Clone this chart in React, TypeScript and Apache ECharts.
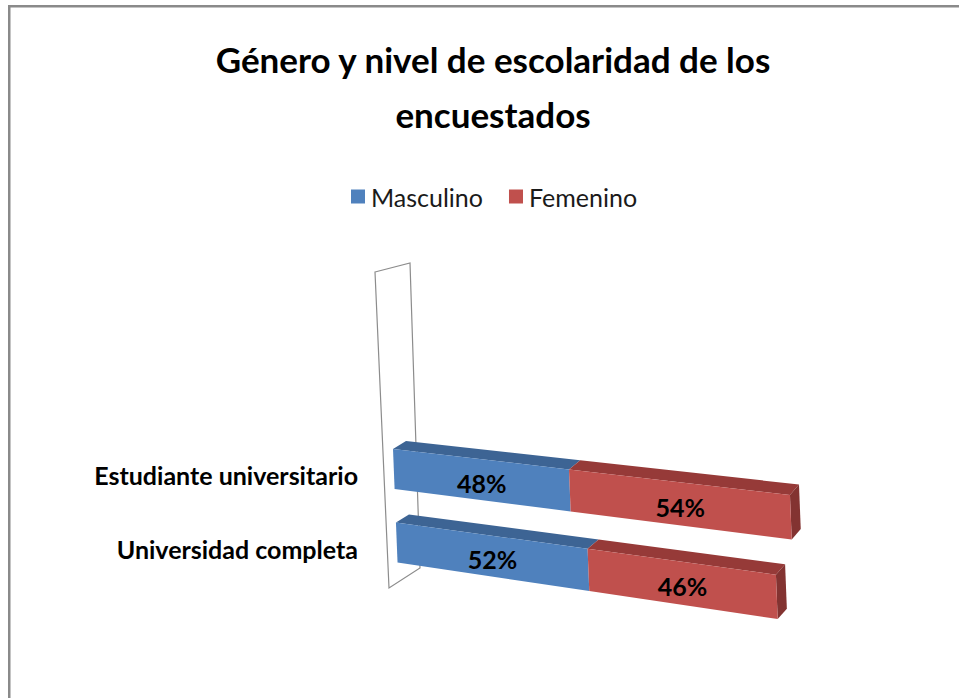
import React, { useEffect, useRef } from 'react';
import * as echarts from 'echarts';

const categories = ['Estudiante universitario', 'Universidad completa'];
const masculino = [48, 52];
const femenino = [54, 46];
const seriesNames = ['Masculino', 'Femenino'];
const titleText = 'Género y nivel de escolaridad de los\nencuestados';

const FONT = "Lato, 'Open Sans', sans-serif";
const frontColors = ['#4F81BD', '#C0504D'];
const topColors = ['#3D6494', '#963A38'];
const sideColors = ['#32557F', '#833331'];
const BAR_RATIO = 40 / 73.5;
// the flat grid sits LABEL_SHIFT px lower than the projected front plane
const LABEL_SHIFT = 6;

function project(px: number, pyFlat: number, cs: any): number[] {
  const py = pyFlat - LABEL_SHIFT;
  const u = px - cs.x;
  const w = 1 - 0.00026 * u;
  return [(0.787 * u + cs.x + 0.04 * (py - 449)) / w, (py - 0.01377 * u) / w];
}

function depth(p: number[]): number[] {
  const t = (p[0] - 393) / 400;
  return [p[0] + 13 - 4 * t, p[1] - 8 - 2.5 * t];
}

function makeRender(seriesIdx: number, isLast: boolean) {
  return (params: any, api: any) => {
    const cs = params.coordSys;
    const s = api.value(0);
    const e = api.value(1);
    const ci = api.value(2);
    const p0 = api.coord([s, ci]);
    const p1 = api.coord([e, ci]);
    const band = api.size([0, 1])[1];
    const h = band * BAR_RATIO;
    const y0 = p0[1] - h / 2;
    const y1 = p0[1] + h / 2;
    const ftl = project(p0[0], y0, cs);
    const ftr = project(p1[0], y0, cs);
    const fbr = project(p1[0], y1, cs);
    const fbl = project(p0[0], y1, cs);
    const btl = depth(ftl);
    const btr = depth(ftr);
    const bbr = depth(fbr);
    const children: any[] = [
      {
        type: 'polygon',
        shape: { points: [ftl, ftr, btr, btl] },
        style: { fill: topColors[seriesIdx] },
      },
    ];
    if (isLast) {
      children.push({
        type: 'polygon',
        shape: { points: [ftr, btr, bbr, fbr] },
        style: { fill: sideColors[seriesIdx] },
      });
    }
    children.push({
      type: 'polygon',
      shape: { points: [ftl, ftr, fbr, fbl] },
      style: { fill: frontColors[seriesIdx] },
    });
    const cx = (ftl[0] + ftr[0] + fbr[0] + fbl[0]) / 4;
    const cy = (ftl[1] + ftr[1] + fbr[1] + fbl[1]) / 4;
    children.push({
      type: 'text',
      x: cx,
      y: cy + 3,
      style: {
        text: Math.round(e - s) + '%',
        align: 'center',
        verticalAlign: 'middle',
        fontFamily: FONT,
        fontWeight: 'bold',
        fontSize: 25,
        fill: '#000',
      },
    });
    return { type: 'group', children };
  };
}

export default function App() {
  const ref = useRef<HTMLDivElement>(null);
  useEffect(() => {
    const chart = echarts.init(ref.current!, null, { renderer: 'svg' });
    const mascData = categories.map((_, i) => [0, masculino[i], i]);
    const femData = categories.map((_, i) => [masculino[i], masculino[i] + femenino[i], i]);
    const option: any = {
      animation: false,
      backgroundColor: '#ffffff',
      title: {
        text: titleText,
        left: 488,
        textAlign: 'center',
        top: 26,
        textStyle: {
          fontFamily: FONT,
          fontWeight: 'bold',
          fontSize: 35,
          lineHeight: 55,
          color: '#000',
        },
      },
      legend: {
        data: seriesNames,
        left: 346,
        top: 179,
        icon: 'rect',
        itemWidth: 14,
        itemHeight: 14,
        itemGap: 26,
        textStyle: { fontFamily: FONT, fontSize: 25, color: '#1a1a1a', padding: [0, 0, 0, 1] },
      },
      grid: { left: 393, top: 432.25 + LABEL_SHIFT, width: 400, height: 147 },
      xAxis: { type: 'value', min: 0, max: 102, show: false },
      yAxis: {
        type: 'category',
        data: categories,
        inverse: true,
        axisLine: { show: false },
        axisTick: { show: false },
        splitLine: { show: false },
        axisLabel: {
          margin: 35,
          fontFamily: FONT,
          fontWeight: 'bold',
          fontSize: 25,
          color: '#000',
          verticalAlign: 'middle',
        },
      },
      graphic: [
        {
          type: 'rect',
          z: 0,
          shape: { x: 9.25, y: 6.25, width: 1000, height: 1000 },
          style: { fill: 'none', stroke: '#8a8a8a', lineWidth: 2.5 },
        },
        {
          type: 'polygon',
          z: 0,
          shape: { points: [[375, 272], [410, 263], [420, 568], [389, 588]] },
          style: { fill: 'none', stroke: '#8c8c8c', lineWidth: 1.2 },
        },
      ],
      series: [
        {
          type: 'custom',
          name: seriesNames[0],
          data: mascData,
          encode: { x: [0, 1], y: 2 },
          itemStyle: { color: frontColors[0] },
          renderItem: makeRender(0, false),
        },
        {
          type: 'custom',
          name: seriesNames[1],
          data: femData,
          encode: { x: [0, 1], y: 2 },
          itemStyle: { color: frontColors[1] },
          renderItem: makeRender(1, true),
        },
      ],
    };
    chart.setOption(option);
    return () => chart.dispose();
  }, []);
  return (
    <div
      ref={ref}
      style={{ position: 'fixed', left: 0, top: 0, width: 959, height: 698, background: '#fff' }}
    />
  );
}
